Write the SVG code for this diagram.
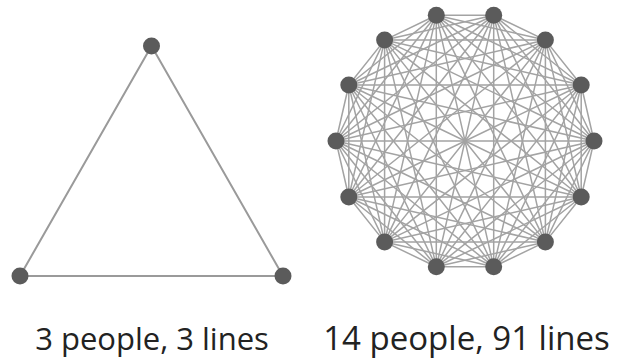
<svg xmlns="http://www.w3.org/2000/svg" width="618" height="361" viewBox="0 0 618 361">
<style>
.edge{fill:none;stroke:#a3a3a3;stroke-width:1.5;stroke-linecap:round}
.tri{fill:none;stroke:#9a9a9a;stroke-width:2}
.node{fill:#5b5b5b}
.label{font-family:"Open Sans","Noto Sans","Liberation Sans",sans-serif;fill:#222;text-anchor:middle}
</style>
<rect width="618" height="361" fill="#fff"/>
<g id="connectors">
<path class="tri" d="M151.5,46L20,276L283,276Z"/>
<path class="edge" d="M594,141L581.2,85M594,141L545.4,40.1M594,141L493.7,15.2M594,141L436.3,15.2M594,141L384.6,40.1M594,141L348.8,85M594,141L336,141M594,141L348.8,197M594,141L384.6,241.9M594,141L436.3,266.8M594,141L493.7,266.8M594,141L545.4,241.9M594,141L581.2,197"/>
<path class="edge" d="M581.2,85L545.4,40.1M581.2,85L493.7,15.2M581.2,85L436.3,15.2M581.2,85L384.6,40.1M581.2,85L348.8,85M581.2,85L336,141M581.2,85L348.8,197M581.2,85L384.6,241.9M581.2,85L436.3,266.8M581.2,85L493.7,266.8M581.2,85L545.4,241.9M581.2,85L581.2,197"/>
<path class="edge" d="M545.4,40.1L493.7,15.2M545.4,40.1L436.3,15.2M545.4,40.1L384.6,40.1M545.4,40.1L348.8,85M545.4,40.1L336,141M545.4,40.1L348.8,197M545.4,40.1L384.6,241.9M545.4,40.1L436.3,266.8M545.4,40.1L493.7,266.8M545.4,40.1L545.4,241.9M545.4,40.1L581.2,197"/>
<path class="edge" d="M493.7,15.2L436.3,15.2M493.7,15.2L384.6,40.1M493.7,15.2L348.8,85M493.7,15.2L336,141M493.7,15.2L348.8,197M493.7,15.2L384.6,241.9M493.7,15.2L436.3,266.8M493.7,15.2L493.7,266.8M493.7,15.2L545.4,241.9M493.7,15.2L581.2,197"/>
<path class="edge" d="M436.3,15.2L384.6,40.1M436.3,15.2L348.8,85M436.3,15.2L336,141M436.3,15.2L348.8,197M436.3,15.2L384.6,241.9M436.3,15.2L436.3,266.8M436.3,15.2L493.7,266.8M436.3,15.2L545.4,241.9M436.3,15.2L581.2,197"/>
<path class="edge" d="M384.6,40.1L348.8,85M384.6,40.1L336,141M384.6,40.1L348.8,197M384.6,40.1L384.6,241.9M384.6,40.1L436.3,266.8M384.6,40.1L493.7,266.8M384.6,40.1L545.4,241.9M384.6,40.1L581.2,197"/>
<path class="edge" d="M348.8,85L336,141M348.8,85L348.8,197M348.8,85L384.6,241.9M348.8,85L436.3,266.8M348.8,85L493.7,266.8M348.8,85L545.4,241.9M348.8,85L581.2,197"/>
<path class="edge" d="M336,141L348.8,197M336,141L384.6,241.9M336,141L436.3,266.8M336,141L493.7,266.8M336,141L545.4,241.9M336,141L581.2,197"/>
<path class="edge" d="M348.8,197L384.6,241.9M348.8,197L436.3,266.8M348.8,197L493.7,266.8M348.8,197L545.4,241.9M348.8,197L581.2,197"/>
<path class="edge" d="M384.6,241.9L436.3,266.8M384.6,241.9L493.7,266.8M384.6,241.9L545.4,241.9M384.6,241.9L581.2,197"/>
<path class="edge" d="M436.3,266.8L493.7,266.8M436.3,266.8L545.4,241.9M436.3,266.8L581.2,197"/>
<path class="edge" d="M493.7,266.8L545.4,241.9M493.7,266.8L581.2,197"/>
<path class="edge" d="M545.4,241.9L581.2,197"/>
</g>
<g id="t1"><circle class="node" cx="151.5" cy="46" r="8.5"/></g>
<g id="t2"><circle class="node" cx="20" cy="276" r="8.5"/></g>
<g id="t3"><circle class="node" cx="283" cy="276" r="8.5"/></g>
<g id="n0"><circle class="node" cx="594" cy="141" r="8.5"/></g>
<g id="n1"><circle class="node" cx="581.2" cy="85" r="8.5"/></g>
<g id="n2"><circle class="node" cx="545.4" cy="40.1" r="8.5"/></g>
<g id="n3"><circle class="node" cx="493.7" cy="15.2" r="8.5"/></g>
<g id="n4"><circle class="node" cx="436.3" cy="15.2" r="8.5"/></g>
<g id="n5"><circle class="node" cx="384.6" cy="40.1" r="8.5"/></g>
<g id="n6"><circle class="node" cx="348.8" cy="85" r="8.5"/></g>
<g id="n7"><circle class="node" cx="336" cy="141" r="8.5"/></g>
<g id="n8"><circle class="node" cx="348.8" cy="197" r="8.5"/></g>
<g id="n9"><circle class="node" cx="384.6" cy="241.9" r="8.5"/></g>
<g id="n10"><circle class="node" cx="436.3" cy="266.8" r="8.5"/></g>
<g id="n11"><circle class="node" cx="493.7" cy="266.8" r="8.5"/></g>
<g id="n12"><circle class="node" cx="545.4" cy="241.9" r="8.5"/></g>
<g id="n13"><circle class="node" cx="581.2" cy="197" r="8.5"/></g>
<text class="label" x="152" y="350" font-size="31">3 people, 3 lines</text>
<text class="label" x="466.5" y="350" font-size="33">14 people, 91 lines</text>
</svg>
